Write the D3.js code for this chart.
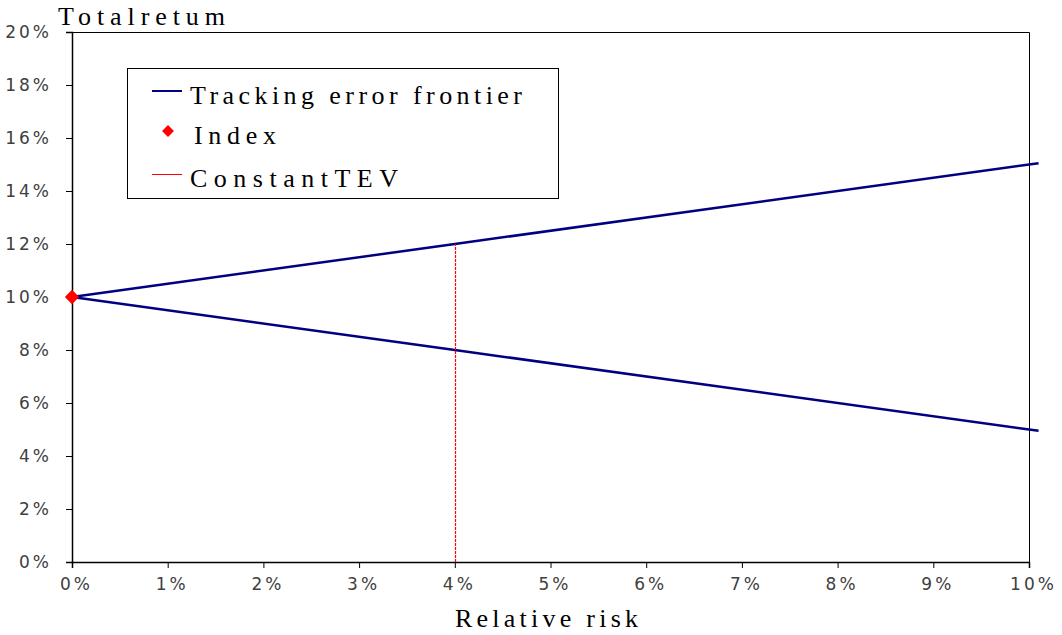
<!DOCTYPE html>
<html><head><meta charset="utf-8">
<script src="https://cdn.jsdelivr.net/npm/d3@7"></script>
<style>body{margin:0;background:#fff}svg{display:block}</style>
</head><body>
<script>
const riskX = [0, 4, 10.1];
const upperY = [10, 12, 15.05];
const lowerY = [10, 8, 4.95];
const indexPoint = [0, 10];
const tevX = 4;
const tevY = [0, 12];
const xTicks = [0,1,2,3,4,5,6,7,8,9,10];
const yTicks = [0,2,4,6,8,10,12,14,16,18,20];
const legendLabels = ["Tracking error frontier", "Index", "ConstantTEV"];

const W = 1062, H = 635;
const svg = d3.select("body").append("svg").attr("width", W).attr("height", H);
const x = d3.scaleLinear().domain([0,10]).range([72,1029]);
const y = d3.scaleLinear().domain([0,20]).range([562,32]);
const serif = "Liberation Serif, Times New Roman, serif";
const sans = "DejaVu Sans, sans-serif";

// plot frame (top & right)
svg.append("path").attr("d", `M${x(0)},${y(20)+0.5}H${x(10)+0.5}V${y(0)}`)
  .attr("fill","none").attr("stroke","#000").attr("stroke-width",1);

// axes
const yAxis = d3.axisLeft(y).tickValues(yTicks).tickSize(6).tickFormat(d => d + "%");
const gy = svg.append("g").attr("transform", `translate(${x(0)},0)`).call(yAxis);
gy.select(".domain").attr("stroke","#000").attr("stroke-width",1.5);
gy.selectAll(".tick line").attr("stroke","#000");
gy.selectAll(".tick text").attr("x",-20).attr("font-family",sans).attr("font-size",17)
  .attr("fill","#404040").attr("letter-spacing",3);

const xAxis = d3.axisBottom(x).tickValues(xTicks).tickSize(6).tickFormat(d => d + "%");
const gx = svg.append("g").attr("transform", `translate(0,${y(0)})`).call(xAxis);
gx.select(".domain").attr("stroke","#000").attr("stroke-width",1.5);
gx.selectAll(".tick line").attr("stroke","#000");
gx.selectAll(".tick text").attr("y",16).attr("dx",4).attr("font-family",sans).attr("font-size",17)
  .attr("fill","#404040").attr("letter-spacing",3);

// frontier lines
const line = d3.line().x(d => x(d[0])).y(d => y(d[1]));
[upperY, lowerY].forEach(arr => {
  svg.append("path").datum(riskX.map((r,i) => [r, arr[i]])).attr("d", line)
    .attr("fill","none").attr("stroke","#000080").attr("stroke-width",2.5);
});

// constant TEV line
const tx = Math.round(x(tevX)) + 0.5;
svg.append("line").attr("x1",tx).attr("x2",tx).attr("y1",y(tevY[0])).attr("y2",y(tevY[1]))
  .attr("stroke","#ff0000").attr("stroke-width",1.2).attr("stroke-dasharray","3,1");

// index point
const sym = d3.symbol().type(d3.symbolDiamond2).size(130);
svg.append("path").attr("d", sym()).attr("transform", `translate(${x(indexPoint[0])},${y(indexPoint[1])})`)
  .attr("fill","#ff0000");

// titles
svg.append("text").attr("x",58).attr("y",25).text("Totalretum")
  .attr("font-family",serif).attr("font-size",26).attr("fill","#000")
  .attr("textLength",167).attr("lengthAdjust","spacing");
svg.append("text").attr("x",455).attr("y",627).text("Relative risk")
  .attr("font-family",serif).attr("font-size",26).attr("fill","#000")
  .attr("textLength",183).attr("lengthAdjust","spacing");

// legend
const lg = svg.append("g");
lg.append("rect").attr("x",127.5).attr("y",68.5).attr("width",431).attr("height",130)
  .attr("fill","#fff").attr("stroke","#000").attr("stroke-width",1);
const rowY = [91, 131, 174];
const textX = [190, 194, 190];
const textW = [332, 82, 208];
lg.append("line").attr("x1",152).attr("x2",182).attr("y1",rowY[0]).attr("y2",rowY[0])
  .attr("stroke","#000080").attr("stroke-width",2);
lg.append("path").attr("d", d3.symbol().type(d3.symbolDiamond2).size(90)())
  .attr("transform",`translate(168,${rowY[1]})`).attr("fill","#ff0000");
lg.append("line").attr("x1",152).attr("x2",182).attr("y1",rowY[2]+0.5).attr("y2",rowY[2]+0.5)
  .attr("stroke","#ff0000").attr("stroke-width",1).attr("shape-rendering","crispEdges");
legendLabels.forEach((t,i) => {
  lg.append("text").attr("x",textX[i]).attr("y",rowY[i]+13).text(t)
    .attr("font-family",serif).attr("font-size",26).attr("fill","#000")
    .attr("textLength",textW[i]).attr("lengthAdjust","spacing");
});
</script>
</body></html>
